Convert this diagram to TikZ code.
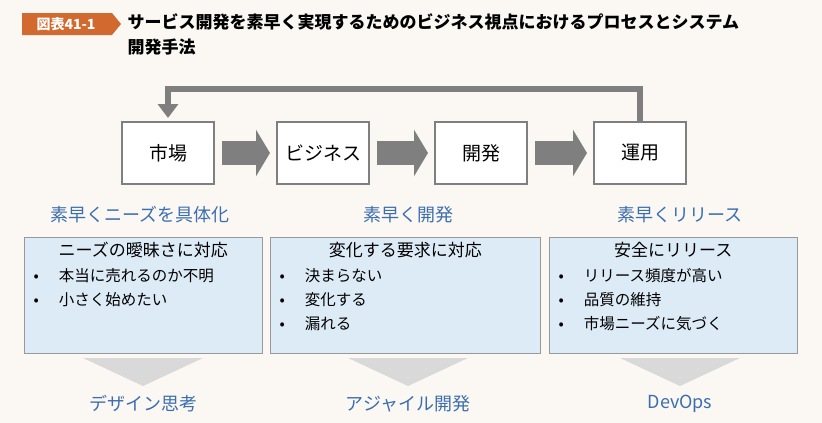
\documentclass[tikz,border=0pt]{standalone}
\usepackage{fontspec}
\setmainfont{Noto Sans CJK JP}
\usetikzlibrary{positioning, arrows.meta, shapes.arrows}
\definecolor{bg}{HTML}{FBF8F4}
\definecolor{tagorange}{HTML}{D2692E}
\definecolor{flowgray}{HTML}{7F7F7F}
\definecolor{labelblue}{HTML}{3B6EAF}
\definecolor{notefill}{HTML}{DDEBF7}
\tikzset{>={Triangle[length=14pt,width=46pt]}}

\begin{document}
\begin{tikzpicture}[x=1pt, y=-1pt,
    stage/.style={draw=flowgray, fill=white, line width=2pt, minimum width=92pt, minimum height=62pt, font=\fontsize{19}{19}\selectfont},
    note/.style={draw=black!40, fill=notefill, line width=0.6pt, anchor=north west, align=left, inner sep=0pt},
    fast/.style={text=labelblue, font=\fontsize{18}{18}\selectfont},
    method/.style={text=labelblue, font=\fontsize{18}{18}\selectfont},
    flow/.style={draw=flowgray, line width=24pt, ->}]

    %Background
    \fill[bg] (0,0) rectangle (822,423);
    \useasboundingbox (0,0) rectangle (822,423);

    %Title
    \fill[tagorange] (22,13) -- (112,13) -- (121,24) -- (112,35) -- (22,35) -- cycle;
    \node[text=white, font=\bfseries\fontsize{14}{14}\selectfont] (tag) at (66,24) {図表41-1};
    \node[anchor=north west, align=left, font=\bfseries\fontsize{17}{25}\selectfont] (title) at (124,10)
        {サービス開発を素早く実現するためのビジネス視点におけるプロセスとシステム\\開発手法};

    %Steps
    \node[stage] (market) at (168,153) {市場};
    \node[stage] (business) at (323,153) {ビジネス};
    \node[stage] (dev) at (481,153) {開発};
    \node[stage] (ops) at (640,153) {運用};
    \coordinate (loop) at (0,89);

    %Arrows
    \draw[flow] (market.east) ++(7,0) -- ([xshift=-6pt]business.west);
    \draw[flow] (business.east) ++(7,0) -- ([xshift=-6pt]dev.west);
    \draw[flow] (dev.east) ++(7,0) -- ([xshift=-6pt]ops.west);
    \draw[flow, line width=6pt, ->, >={Triangle[length=14pt,width=20pt]}]
        (ops.north) -- (ops.north |- loop) -- (market.north |- loop) -- ([yshift=3pt]market.north);

    %Labels
    \node[fast] (fast1) at (140,215) {素早くニーズを具体化};
    \node[fast] (fast2) at (408,215) {素早く開発};
    \node[fast] (fast3) at (680,215) {素早くリリース};

    %Notes
    \node[note, minimum width=238pt, minimum height=116pt] (note1) at (24,237) {};
    \node[note, minimum width=270pt, minimum height=116pt] (note2) at (270,237) {};
    \node[note, minimum width=248pt, minimum height=116pt] (note3) at (549,237) {};
    \node[below=2pt of note1.north, font=\fontsize{17}{17}\selectfont] (head1) {ニーズの曖昧さに対応};
    \node[below=2pt of note2.north, font=\fontsize{17}{17}\selectfont] (head2) {変化する要求に対応};
    \node[below=2pt of note3.north, font=\fontsize{17}{17}\selectfont] (head3) {安全にリリース};
    \node[anchor=north west, align=left, font=\fontsize{15.5}{24}\selectfont] (items1) at (30,265)
        {•\hspace{20pt}本当に売れるのか不明\\•\hspace{20pt}小さく始めたい};
    \node[anchor=north west, align=left, font=\fontsize{15.5}{24}\selectfont] (items2) at (276,265)
        {•\hspace{20pt}決まらない\\•\hspace{20pt}変化する\\•\hspace{20pt}漏れる};
    \node[anchor=north west, align=left, font=\fontsize{15.5}{24}\selectfont] (items3) at (555,265)
        {•\hspace{20pt}リリース頻度が高い\\•\hspace{20pt}品質の維持\\•\hspace{20pt}市場ニーズに気づく};

    %Pointers
    \foreach \cx in {143,408,680}
        \fill[black!15] (\cx-60,358) -- (\cx+60,358) -- (\cx,386) -- cycle;

    %Methods
    \node[method] (design) at (143,404) {デザイン思考};
    \node[method] (agile) at (408,404) {アジャイル開発};
    \node[method] (devops) at (680,404) {DevOps};

\end{tikzpicture}
\end{document}
